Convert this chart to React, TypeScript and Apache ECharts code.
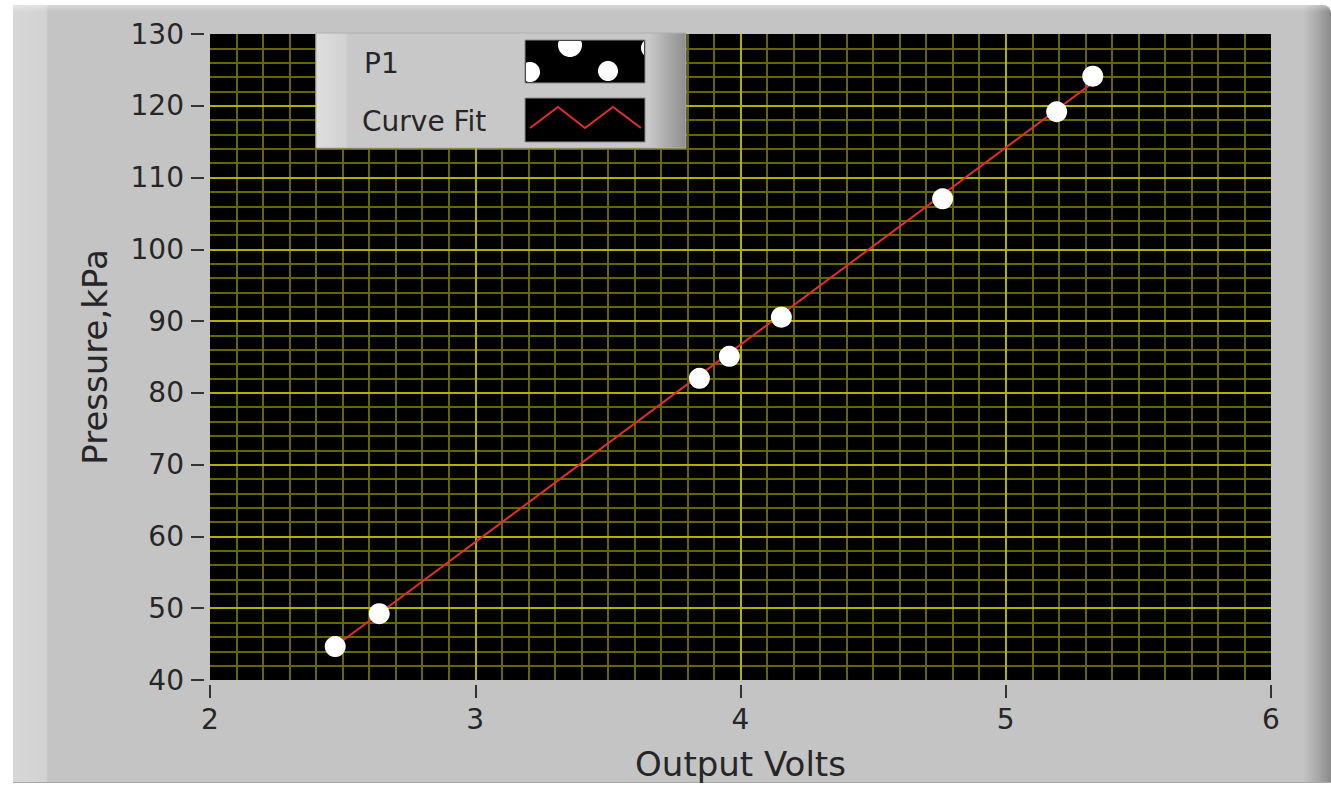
import React, { useEffect, useRef } from "react";
import * as echarts from "echarts";

// ---- data ----
const volts = [2.472, 2.638, 3.845, 3.958, 4.154, 4.762, 5.192, 5.328];
const pressure = [44.65, 49.24, 82.03, 85.09, 90.55, 107.04, 119.17, 124.13];
const fitVolts = [2.472, 5.328];
const fitPressure = [44.7, 123.2];
const seriesNames = ["P1", "Curve Fit"];
const xName = "Output Volts";
const yName = "Pressure,kPa";

const FONT = "DejaVu Sans";
const MAJOR = "#b0b000";
const MINOR = "#666600";
const TEXT = "#262626";

function clippedCircle(cx: number, cy: number, r: number, x0: number, y0: number, x1: number, y1: number) {
  const pts: number[][] = [];
  for (let i = 0; i < 48; i++) {
    const a = (i / 48) * Math.PI * 2;
    const px = Math.min(x1, Math.max(x0, cx + r * Math.cos(a)));
    const py = Math.min(y1, Math.max(y0, cy + r * Math.sin(a)));
    pts.push([px, py]);
  }
  return pts;
}

export default function App() {
  const ref = useRef<HTMLDivElement>(null);
  useEffect(() => {
    if (!ref.current) return;
    const chart = echarts.init(ref.current, undefined, { renderer: "svg" });
    const sw1 = { x: 525, y: 40, w: 120, h: 43 };
    const sw2 = { x: 525, y: 98, w: 120, h: 44 };
    const dots = [
      [570, 45, 12],
      [530, 72, 10],
      [608, 71, 10],
      [651, 48, 10],
    ];
    const option: any = {
      animation: false,
      grid: {
        left: 210,
        top: 34,
        width: 1061,
        height: 648,
        show: true,
        backgroundColor: "#000",
        borderWidth: 0,
      },
      xAxis: [
        {
          type: "value",
          min: 2,
          max: 6,
          interval: 1,
          offset: 5,
          axisLine: { show: false },
          axisTick: { show: true, length: 13, lineStyle: { color: "#333", width: 2 } },
          axisLabel: { margin: 20, fontSize: 28, fontFamily: FONT, color: TEXT },
          splitLine: { show: false },
          minorTick: { show: false, splitNumber: 10 },
          minorSplitLine: { show: true, lineStyle: { color: MINOR, width: 2 } },
          name: xName,
          nameLocation: "middle",
          nameGap: 62,
          nameTextStyle: { fontSize: 34, fontFamily: FONT, color: TEXT },
        },
        {
          type: "value",
          min: 2,
          max: 6,
          interval: 1,
          z: 1,
          axisLine: { show: false },
          axisTick: { show: false },
          axisLabel: { show: false },
          splitLine: { show: true, showMinLine: false, showMaxLine: false, lineStyle: { color: MAJOR, width: 2 } },
        },
      ],
      yAxis: [
        {
          type: "value",
          min: 40,
          max: 130,
          interval: 10,
          offset: 6,
          axisLine: { show: false },
          axisTick: { show: true, length: 13, lineStyle: { color: "#333", width: 2 } },
          axisLabel: { margin: 20, fontSize: 28, fontFamily: FONT, color: TEXT },
          splitLine: { show: false },
          minorTick: { show: false, splitNumber: 5 },
          minorSplitLine: { show: true, lineStyle: { color: MINOR, width: 2 } },
          name: yName,
          nameLocation: "middle",
          nameGap: 92,
          nameTextStyle: { fontSize: 34, fontFamily: FONT, color: TEXT },
        },
        {
          type: "value",
          min: 40,
          max: 130,
          interval: 10,
          z: 1,
          axisLine: { show: false },
          axisTick: { show: false },
          axisLabel: { show: false },
          splitLine: { show: true, showMinLine: false, showMaxLine: false, lineStyle: { color: MAJOR, width: 2 } },
        },
      ],
      series: [
        {
          name: seriesNames[1],
          type: "line",
          xAxisIndex: 0,
          yAxisIndex: 0,
          data: fitVolts.map((v, i) => [v, fitPressure[i]]),
          showSymbol: false,
          lineStyle: { color: "#e0302a", width: 2 },
          z: 3,
        },
        {
          name: seriesNames[0],
          type: "scatter",
          xAxisIndex: 0,
          yAxisIndex: 0,
          data: volts.map((v, i) => [v, pressure[i]]),
          symbol: "circle",
          symbolSize: 21,
          itemStyle: { color: "#ffffff", opacity: 1 },
          z: 4,
        },
      ],
      graphic: [
        {
          type: "rect",
          z: 100,
          shape: { x: 316, y: 33, width: 370, height: 115 },
          style: {
            fill: {
              type: "linear",
              x: 0,
              y: 0,
              x2: 1,
              y2: 0,
              colorStops: [
                { offset: 0, color: "#dedede" },
                { offset: 0.08, color: "#d2d2d2" },
                { offset: 0.085, color: "#c8c8c8" },
                { offset: 0.9, color: "#c8c8c8" },
                { offset: 1, color: "#8e8e8e" },
              ],
            },
            stroke: "#b0b0b0",
            lineWidth: 1,
          },
        },
        {
          type: "text",
          z: 101,
          x: 364,
          y: 63,
          style: { text: seriesNames[0], fontSize: 28, fontFamily: FONT, fill: TEXT, verticalAlign: "middle" },
        },
        {
          type: "text",
          z: 101,
          x: 362,
          y: 121,
          style: { text: seriesNames[1], fontSize: 28, fontFamily: FONT, fill: TEXT, verticalAlign: "middle" },
        },
        {
          type: "rect",
          z: 101,
          shape: { x: sw1.x, y: sw1.y, width: sw1.w, height: sw1.h },
          style: { fill: "#000", stroke: "#8a8a8a", lineWidth: 1 },
        },
        ...dots.map((d) => ({
          type: "polygon",
          z: 102,
          shape: { points: clippedCircle(d[0], d[1], d[2], sw1.x + 1, sw1.y + 1, sw1.x + sw1.w - 1, sw1.y + sw1.h - 1) },
          style: { fill: "#fff" },
        })),
        {
          type: "rect",
          z: 101,
          shape: { x: sw2.x, y: sw2.y, width: sw2.w, height: sw2.h },
          style: { fill: "#000", stroke: "#8a8a8a", lineWidth: 1 },
        },
        {
          type: "polyline",
          z: 102,
          shape: { points: [[530, 128], [558, 107], [585, 128], [613, 107], [641, 128]] },
          style: { stroke: "#e0302a", lineWidth: 2, fill: null },
        },
      ],
    };
    chart.setOption(option);
    return () => chart.dispose();
  }, []);

  return (
    <div style={{ position: "fixed", left: 0, top: 0, width: 1331, height: 786, background: "#fff" }}>
      <div
        style={{
          position: "absolute",
          left: 13,
          top: 5,
          width: 1318,
          height: 777,
          borderTopRightRadius: 8,
          borderBottom: "1px solid #a8a8a8",
          background:
            "linear-gradient(to right, #d8d8d8 0px, #d2d2d2 33px, #c4c4c4 35px, #c4c4c4 1290px, #a8a8a8 1305px, #8a8a8a 1318px)",
        }}
      />
      <div
        style={{
          position: "absolute",
          left: 13,
          top: 5,
          width: 1318,
          height: 7,
          borderTopRightRadius: 8,
          background: "linear-gradient(to bottom, rgba(255,255,255,0.35), rgba(255,255,255,0))",
        }}
      />
      <div ref={ref} style={{ position: "absolute", left: 0, top: 0, width: 1331, height: 786 }} />
    </div>
  );
}
